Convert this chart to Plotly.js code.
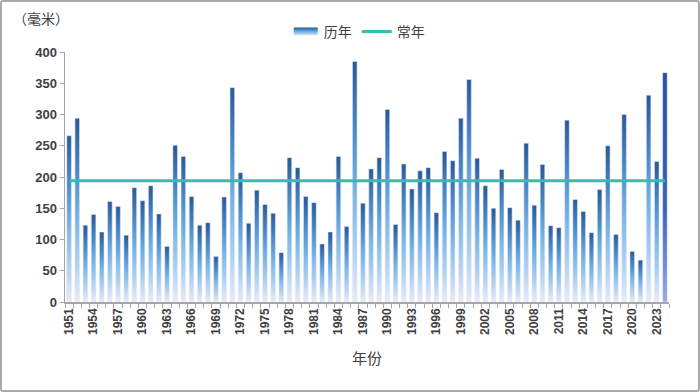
<!DOCTYPE html>
<html><head><meta charset="utf-8">
<script src="https://cdn.plot.ly/plotly-3.0.1.min.js"></script>
<style>
body{margin:0;background:#fff}
#chart{width:696px;height:388px;border:2px solid #a9a9a9;border-radius:3px;overflow:hidden}
</style>
</head><body><div id="chart"></div>
<script>
const years = [1951,1952,1953,1954,1955,1956,1957,1958,1959,1960,
  1961,1962,1963,1964,1965,1966,1967,1968,1969,1970,
  1971,1972,1973,1974,1975,1976,1977,1978,1979,1980,
  1981,1982,1983,1984,1985,1986,1987,1988,1989,1990,
  1991,1992,1993,1994,1995,1996,1997,1998,1999,2000,
  2001,2002,2003,2004,2005,2006,2007,2008,2009,2010,
  2011,2012,2013,2014,2015,2016,2017,2018,2019,2020,
  2021,2022,2023,2024];
const rainfall = [266,294,123,140,112,161,153,107,183,162,
  186,141,89,251,233,169,123,127,73,168,
  343,207,126,179,156,142,79,231,215,169,
  159,93,112,233,121,385,158,213,231,308,
  124,221,181,210,215,143,241,226,294,356,
  230,186,150,212,151,131,254,155,220,122,
  119,291,164,145,111,180,250,108,300,81,
  67,331,225,367];
const normalValue = 194;
const tickYears = [1951,1954,1957,1960,1963,1966,1969,1972,1975,1978,1981,1984,1987,1990,1993,1996,1999,2002,2005,2008,2011,2014,2017,2020,2023];
const seriesNames = ['历年','常年'];

const axisColor = '#a6a6a6';
const textColor = '#404040';
const cjk = '"Noto Sans CJK SC", sans-serif';
const num = '"Liberation Sans", Arial, sans-serif';

const data = [
  {type:'bar', name:seriesNames[0], x:years, y:rainfall,
   marker:{color:'#4a86c5', line:{color:'rgba(225,232,248,0.9)', width:0.6}},
   hoverinfo:'x+y'},
  {type:'scatter', mode:'lines', name:seriesNames[1],
   x:[years[0], years[years.length-1]], y:[normalValue, normalValue],
   line:{color:'#2fc0b0', width:3}}
];

const layout = {
  width:696, height:388,
  margin:{l:63, r:29, t:50, b:88, autoexpand:false},
  paper_bgcolor:'#fff', plot_bgcolor:'#fff',
  bargap:0.44,
  showlegend:true,
  legend:{orientation:'h', x:0.483, xanchor:'center', y:1.08, yanchor:'middle',
    font:{family:cjk, size:14, color:textColor}, traceorder:'normal', itemwidth:30},
  xaxis:{type:'linear', range:[1950.5, 2024.5], tickvals:tickYears, ticktext:tickYears.map(String),
    tickangle:-90, ticks:'', showline:true, linecolor:axisColor, linewidth:1.5,
    showgrid:false, zeroline:false,
    minor:{ticks:'outside', ticklen:4, tick0:1950.5, dtick:1, tickcolor:axisColor, tickwidth:1, showgrid:false},
    tickfont:{family:num, size:12, color:textColor, weight:'bold'},
    title:{text:'年份', font:{family:cjk, size:15, color:textColor}, standoff:19}},
  yaxis:{range:[0,400], dtick:50, ticks:'outside', ticklen:4, tickcolor:axisColor,
    showline:true, linecolor:axisColor, linewidth:1.5, showgrid:false, zeroline:false,
    tickfont:{family:num, size:13, color:textColor, weight:'bold'}},
  annotations:[{text:'（毫米）', xref:'paper', yref:'paper', x:-0.04, y:1.136,
    xanchor:'center', yanchor:'middle', showarrow:false,
    font:{family:cjk, size:14, color:textColor}}]
};

Plotly.newPlot('chart', data, layout, {displayModeBar:false, staticPlot:true}).then(function(gd){
  const ns = 'http://www.w3.org/2000/svg';
  const svg = gd.querySelector('svg.main-svg');
  let defs = svg.querySelector('defs');
  if(!defs){ defs = document.createElementNS(ns,'defs'); svg.insertBefore(defs, svg.firstChild); }
  function addGrad(id, stops){
    const g = document.createElementNS(ns,'linearGradient');
    g.setAttribute('id', id);
    g.setAttribute('x1','0'); g.setAttribute('y1','0'); g.setAttribute('x2','0'); g.setAttribute('y2','1');
    stops.forEach(function(s){
      const st = document.createElementNS(ns,'stop');
      st.setAttribute('offset', s[0]); st.setAttribute('stop-color', s[1]);
      g.appendChild(st);
    });
    defs.appendChild(g);
  }
  addGrad('gBar', [[0,'#2a5996'],[0.3,'#4d8cca'],[0.55,'#79b6e6'],[0.8,'#b3d2f0'],[1,'#e9ebf8']]);
  addGrad('gLast', [[0,'#2a4f9e'],[0.6,'#3a62be'],[1,'#9aa8e6']]);
  const paths = gd.querySelectorAll('.barlayer .trace.bars .point path');
  paths.forEach(function(p,i){ p.style.fill = (i === paths.length-1) ? 'url(#gLast)' : 'url(#gBar)'; });
  const legItems = gd.querySelectorAll('.legend .traces');
  if(legItems.length){
    const lp = legItems[0].querySelector('.legendpoints path');
    if(lp){ lp.setAttribute('d','M14,4H-10V-4H14Z'); lp.style.fill='url(#gBar)'; lp.style.strokeWidth='0'; }
  }
});
</script>
</body></html>
